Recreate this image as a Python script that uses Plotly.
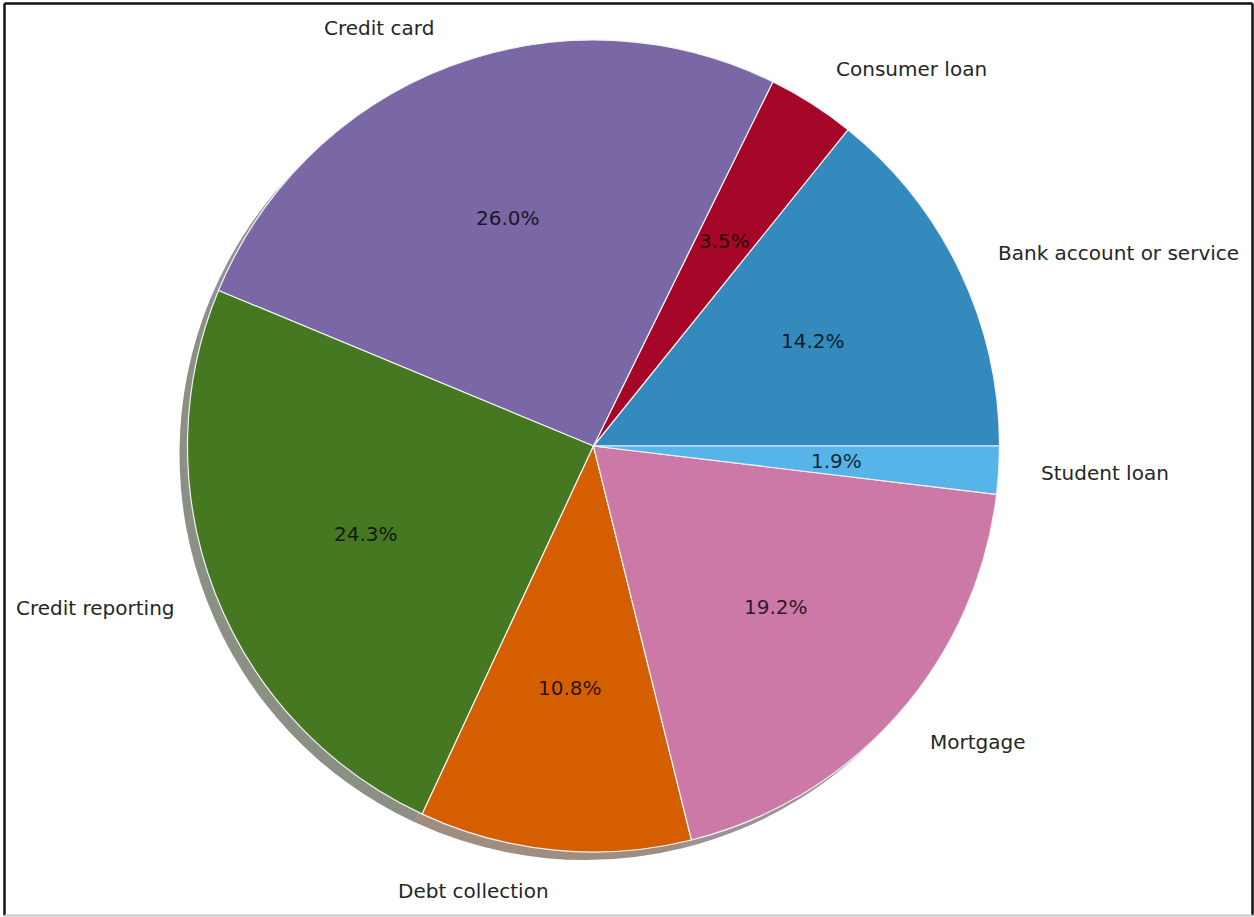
import math
import plotly.graph_objects as go

# ---- data ----
categories = ["Bank account or service", "Consumer loan", "Credit card",
              "Credit reporting", "Debt collection", "Mortgage", "Student loan"]
values = [14.2, 3.5, 26.0, 24.3, 10.8, 19.2, 1.9]
colors = ["#348ABD", "#A60628", "#7A68A6", "#467821", "#D55E00", "#CC79A7", "#56B4E9"]

# ---- layout geometry ----
W, H = 1254, 917
CX, CY = 593.5, 446.0      # pie centre in px (from top-left)
R = 406.0                  # radius px
SH = 8.0                   # shadow offset px

total = sum(values)
# first wedge must start at 3 o'clock and run counterclockwise
ROT = 90 - values[0] / total * 360


def hex_to_rgb(h):
    h = h.lstrip("#")
    return tuple(int(h[i:i + 2], 16) for i in (0, 2, 4))


shadow_colors = []
for c in colors:
    r, g, b = hex_to_rgb(c)
    shadow_colors.append(f"rgba({int(0.3*r)},{int(0.3*g)},{int(0.3*b)},0.5)")


def dom(cx, cy):
    return dict(x=[(cx - R) / W, (cx + R) / W],
                y=[(H - cy - R) / H, (H - cy + R) / H])


fig = go.Figure()
fig.add_trace(go.Pie(labels=categories, values=values, sort=False,
                     direction="counterclockwise", rotation=ROT,
                     marker=dict(colors=shadow_colors, line=dict(width=0)),
                     textinfo="none", hoverinfo="skip",
                     domain=dom(CX - SH, CY + SH), showlegend=False))
fig.add_trace(go.Pie(labels=categories, values=values, sort=False,
                     direction="counterclockwise", rotation=ROT,
                     marker=dict(colors=colors, line=dict(color="#f2f2f2", width=1.2)),
                     textinfo="none",
                     domain=dom(CX, CY), showlegend=False))

# labels (at 1.1 R) and percentages (at 0.6 R), derived from the data
annotations = []
cum = 0.0
for lab, v in zip(categories, values):
    mid = (cum + v / 2) / total * 2 * math.pi
    cum += v
    ca, sa = math.cos(mid), math.sin(mid)
    lx, ly = CX + 1.1 * R * ca, CY - 1.1 * R * sa
    annotations.append(dict(x=lx / W, y=(H - ly) / H, xref="paper", yref="paper",
                            text=lab, showarrow=False,
                            xanchor="left" if ca > 0 else "right", yanchor="middle",
                            font=dict(family="DejaVu Sans", size=20, color="#262626")))
    px, py = CX + 0.6 * R * ca, CY - 0.6 * R * sa
    annotations.append(dict(x=px / W, y=(H - py) / H, xref="paper", yref="paper",
                            text=f"{v / total * 100:.1f}%", showarrow=False,
                            xanchor="center", yanchor="middle",
                            font=dict(family="DejaVu Sans", size=20, color="rgba(0,0,0,0.8)")))

shapes = [
    dict(type="line", xref="paper", yref="paper", x0=4.5 / W, x1=4.5 / W,
         y0=1.5 / H, y1=(H - 3.5) / H, line=dict(color="#111111", width=2.5)),
    dict(type="line", xref="paper", yref="paper", x0=4.5 / W, x1=1252.5 / W,
         y0=(H - 3.5) / H, y1=(H - 3.5) / H, line=dict(color="#111111", width=2.5)),
    dict(type="line", xref="paper", yref="paper", x0=1252.5 / W, x1=1252.5 / W,
         y0=1.5 / H, y1=(H - 3.5) / H, line=dict(color="#111111", width=2.5)),
    dict(type="line", xref="paper", yref="paper", x0=4.5 / W, x1=1252.5 / W,
         y0=1.5 / H, y1=1.5 / H, line=dict(color="#c8c8c8", width=2)),
]

fig.update_layout(width=W, height=H, margin=dict(l=0, r=0, t=0, b=0),
                  paper_bgcolor="white", plot_bgcolor="white",
                  annotations=annotations, shapes=shapes,
                  font=dict(family="DejaVu Sans"))

fig.write_html("out.html", config={"displayModeBar": False},
               post_script="document.body.style.margin='0';document.body.style.overflow='hidden';")
